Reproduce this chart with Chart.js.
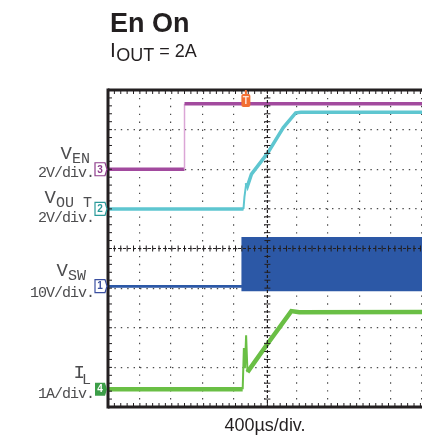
<!DOCTYPE html>
<html>
<head>
<meta charset="utf-8">
<title>En On</title>
<script src="https://cdn.jsdelivr.net/npm/chart.js@4.4.1/dist/chart.umd.min.js"></script>
<style>
  html, body { margin: 0; padding: 0; background: #fff; }
  #scope { display: block; }
</style>
</head>
<body>
<canvas id="scope" width="422" height="438"></canvas>
<script>
// time base: 400 µs per division, capture is cropped on the right
const TIME_PER_DIV = 400;
const TIME_END = 3940;
const TIME_CENTER = 2000;
const TRIGGER_TIME = 1730;

// V_EN (ch 3), volts
const enTime  = [0, 960, 960, 3940];
const enVolts = [0, 0, 3.3, 3.3];

// V_OUT (ch 2), volts
const outTime  = [0, 1700, 1712, 1735, 1750, 1800, 2000, 2200, 2355, 2420, 3940];
const outVolts = [0, 0, 0.6, 1.3, 1.15, 1.75, 2.8, 4.1, 4.85, 4.88, 4.88];

// V_SW (ch 1), volts: envelope of the switching node
const swTime = [0, 1690, 1690, 3940];
const swHigh = [0, 0, 12.1, 12.1];
const swLow  = [0, 0, -1.0, -1.0];

// I_L (ch 4), amps
const ilTime = [0, 1690, 1705, 1718, 1733, 1750, 2000, 2300, 2400, 3940];
const ilAmps = [0, 0, 1.04, 0.53, 1.36, 0.43, 1.14, 1.97, 1.94, 1.95];

// channel labels
const chSymbols = ['V', 'V', 'V', 'I'];
const chSubs    = ['EN', 'OU T', 'SW', 'L'];
const chScales  = ['2V/div.', '2V/div.', '10V/div.', '1A/div.'];
const chPerDiv  = [2, 2, 10, 1];
const chTags    = ['3', '2', '1', '4'];

const TITLE = 'En On';
const X_TITLE = '400µs/div.';

const MONO = '"Liberation Mono", "Courier New", monospace';
const SANS = '"Liberation Sans", Arial, Helvetica, sans-serif';

// offsets in divisions and how each label sits around its ground marker
const channelStyle = [
  {axis: 'yEN',  offset: 2,     color: '#a24a9e', tag: '#8e3d8c', filled: false, dyMain: -10, dySub: -6, dyScale: 8,  subRight: 90, gap: 0},
  {axis: 'yOUT', offset: 1,     color: '#5ec6d0', tag: '#2a9a9a', filled: false, dyMain: -6,  dySub: -2, dyScale: 13, subRight: 92, gap: 0},
  {axis: 'ySW',  offset: -0.95, color: '#2c58a6', tag: '#3a4fa0', filled: false, dyMain: -10, dySub: -6, dyScale: 11, subRight: 86, gap: 0},
  {axis: 'yIL',  offset: -3.55, color: '#6abf45', tag: '#3c9e48', filled: true,  dyMain: -11, dySub: -5, dyScale: 9,  subRight: 91, gap: 3}
];

const toPoints = (xs, ys) => xs.map((x, i) => ({x: x, y: ys[i]}));

// fast edges are drawn thin like on the scope screen
const steep = ctx => Math.abs(ctx.p1.y - ctx.p0.y) > 4 * Math.abs(ctx.p1.x - ctx.p0.x);

function line(ctx, x1, y1, x2, y2) {
    ctx.beginPath();
    ctx.moveTo(x1, y1);
    ctx.lineTo(x2, y2);
    ctx.stroke();
}

function drawTag(ctx, tipX, y, text, color, filled) {
    const w = 10, h = 13, left = tipX - 12;
    ctx.beginPath();
    ctx.moveTo(left, y - h / 2);
    ctx.lineTo(left + w, y - h / 2);
    ctx.lineTo(tipX, y);
    ctx.lineTo(left + w, y + h / 2);
    ctx.lineTo(left, y + h / 2);
    ctx.closePath();
    if (filled) {
        ctx.fillStyle = color;
        ctx.fill();
    } else {
        ctx.fillStyle = '#fff';
        ctx.fill();
        ctx.strokeStyle = color;
        ctx.lineWidth = 1.2;
        ctx.stroke();
    }
    ctx.fillStyle = filled ? '#fff' : color;
    ctx.font = 'bold 10px ' + SANS;
    ctx.textAlign = 'center';
    ctx.textBaseline = 'middle';
    ctx.fillText(text, left + w / 2, y + 0.5);
}

const scopeOverlay = {
    id: 'scopeOverlay',
    afterDatasetsDraw(chart) {
        const {ctx, chartArea: a, scales: {x, y}} = chart;
        const cx = x.getPixelForValue(TIME_CENTER);
        const cy = y.getPixelForValue(0);
        ctx.save();

        // centre crosshair
        ctx.strokeStyle = '#231f20';
        ctx.lineWidth = 1.2;
        ctx.setLineDash([3, 2]);
        line(ctx, cx, a.top, cx, a.bottom);
        line(ctx, a.left, cy, a.right, cy);
        ctx.setLineDash([]);

        // minor ticks every 1/5 division
        ctx.lineWidth = 1;
        for (let t = 0; t <= TIME_END; t += TIME_PER_DIV / 5) {
            const px = x.getPixelForValue(t);
            line(ctx, px, cy - 3, px, cy + 3);
            line(ctx, px, a.top, px, a.top + 4);
            line(ctx, px, a.bottom - 4, px, a.bottom);
        }
        for (let d = -4; d <= 4.01; d += 0.2) {
            const py = y.getPixelForValue(d);
            line(ctx, cx - 3, py, cx + 3, py);
            line(ctx, a.left, py, a.left + 4, py);
        }

        // frame
        ctx.lineWidth = 3;
        line(ctx, a.left, a.top, a.right, a.top);
        line(ctx, a.left, a.bottom, a.right, a.bottom);
        line(ctx, a.left, a.top - 1.5, a.left, a.bottom + 1.5);

        // ground markers
        channelStyle.forEach((ch, i) => {
            const py = chart.scales[ch.axis].getPixelForValue(0);
            drawTag(ctx, a.left - 1, py, chTags[i], ch.tag, ch.filled);
        });

        // trigger marker
        const tx = x.getPixelForValue(TRIGGER_TIME);
        ctx.fillStyle = '#f26f33';
        ctx.fillRect(tx - 1, a.top, 2, 5);
        ctx.beginPath();
        ctx.roundRect(tx - 4.5, a.top + 4, 9, 13, 2);
        ctx.fill();
        ctx.fillStyle = '#fde3d6';
        ctx.font = 'bold 10px ' + SANS;
        ctx.textAlign = 'center';
        ctx.textBaseline = 'middle';
        ctx.fillText('T', tx, a.top + 11);
        ctx.restore();
    },
    afterDraw(chart) {
        const {ctx} = chart;
        ctx.save();
        ctx.textBaseline = 'alphabetic';
        ctx.fillStyle = '#231f20';

        // heading
        ctx.textAlign = 'left';
        ctx.font = 'bold 27px ' + SANS;
        ctx.fillText(TITLE, 110, 32);
        ctx.font = '21px ' + SANS;
        ctx.fillText('I', 110, 57);
        let xx = 110 + ctx.measureText('I').width + 0.5;
        ctx.font = '18px ' + SANS;
        ctx.fillText('OUT', xx, 61);
        xx += ctx.measureText('OUT').width;
        ctx.fillText(' = 2A', xx, 57);

        // channel labels, right aligned against the markers
        ctx.fillStyle = '#4d4d4f';
        ctx.textAlign = 'right';
        channelStyle.forEach((ch, i) => {
            const py = chart.scales[ch.axis].getPixelForValue(0);
            ctx.letterSpacing = '0px';
            ctx.font = '15px ' + MONO;
            const subW = ctx.measureText(chSubs[i]).width;
            ctx.fillText(chSubs[i], ch.subRight, py + ch.dySub);
            ctx.font = '19px ' + MONO;
            ctx.fillText(chSymbols[i], ch.subRight - subW + ch.gap, py + ch.dyMain);
            ctx.font = '15px ' + MONO;
            ctx.letterSpacing = '-1px';
            ctx.fillText(chScales[i], 94, py + ch.dyScale);
        });
        ctx.restore();
    }
};

class ScopeCapture {
    constructor(canvas) {
        this.canvas = canvas;
        this.chart = null;
    }

    init() {
        this.chart = new Chart(this.canvas, {
            type: 'line',
            data: {datasets: this.buildDatasets()},
            options: this.buildOptions(),
            plugins: [scopeOverlay]
        });
    }

    buildDatasets() {
        const [en, out, sw, il] = channelStyle;
        return [
            {
                label: 'I_L',
                data: toPoints(ilTime, ilAmps),
                yAxisID: il.axis,
                borderColor: il.color,
                borderWidth: 4.5,
                segment: {borderWidth: ctx => steep(ctx) ? 2 : undefined}
            },
            {
                label: 'V_SW high',
                data: toPoints(swTime, swHigh),
                yAxisID: sw.axis,
                borderColor: sw.color,
                backgroundColor: sw.color,
                borderWidth: 2.5,
                fill: '+1'
            },
            {
                label: 'V_SW low',
                data: toPoints(swTime, swLow),
                yAxisID: sw.axis,
                borderColor: sw.color,
                borderWidth: 2.5,
                fill: false
            },
            {
                label: 'V_OUT',
                data: toPoints(outTime, outVolts),
                yAxisID: out.axis,
                borderColor: out.color,
                borderWidth: 3.5,
                segment: {borderWidth: ctx => steep(ctx) ? 2 : undefined}
            },
            {
                label: 'V_EN',
                data: toPoints(enTime, enVolts),
                yAxisID: en.axis,
                borderColor: en.color,
                borderWidth: 3.5,
                segment: {
                    borderColor: ctx => steep(ctx) ? '#dba6d6' : undefined,
                    borderWidth: ctx => steep(ctx) ? 1.5 : undefined
                }
            }
        ];
    }

    channelAxis(i) {
        const off = channelStyle[i].offset;
        return {
            display: false,
            min: (-4 - off) * chPerDiv[i],
            max: (4 - off) * chPerDiv[i]
        };
    }

    buildOptions() {
        const scales = {
            x: {
                type: 'linear',
                min: 0,
                max: TIME_END,
                ticks: {display: false, stepSize: TIME_PER_DIV, includeBounds: false},
                grid: {color: '#4a4a4a', lineWidth: 1.2, drawTicks: false},
                border: {display: false, dash: [1.4, 6.5]},
                title: {
                    display: true,
                    text: X_TITLE,
                    color: '#231f20',
                    font: {family: SANS, size: 18},
                    padding: {top: 8.4, bottom: 0}
                }
            },
            y: {
                min: -4,
                max: 4,
                ticks: {display: false, stepSize: 1},
                grid: {color: '#4a4a4a', lineWidth: 1.2, drawTicks: false},
                border: {display: false, dash: [1.4, 5]}
            }
        };
        channelStyle.forEach((ch, i) => { scales[ch.axis] = this.channelAxis(i); });

        return {
            responsive: false,
            animation: false,
            layout: {padding: {left: 108, top: 90, right: 0, bottom: 1}},
            elements: {point: {radius: 0}, line: {tension: 0}},
            plugins: {legend: {display: false}, tooltip: {enabled: false}},
            scales: scales
        };
    }
}

document.addEventListener('DOMContentLoaded', () => {
    const scope = new ScopeCapture(document.getElementById('scope'));
    scope.init();
});
</script>
</body>
</html>
